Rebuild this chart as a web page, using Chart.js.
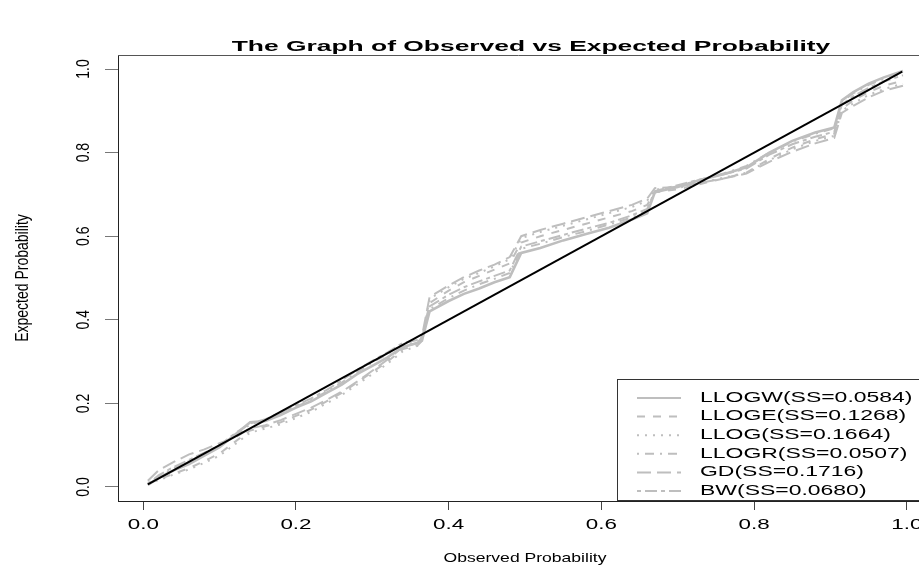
<!DOCTYPE html>
<html>
<head>
<meta charset="utf-8">
<script src="https://cdn.jsdelivr.net/npm/chart.js@4/dist/chart.umd.min.js"></script>
<style>
  html, body { margin: 0; padding: 0; background: #ffffff; }
  #wrap { width: 919px; height: 570px; position: relative; }
</style>
</head>
<body>
<div id="wrap"><canvas id="c" width="919" height="570"></canvas></div>
<script>
// ---- data ----
const chartTitle = 'The Graph of Observed vs Expected Probability';
const xAxisTitle = 'Observed Probability';
const yAxisTitle = 'Expected Probability';
const xTicks = [0.0, 0.2, 0.4, 0.6, 0.8, 1.0];
const yTicks = [0.0, 0.2, 0.4, 0.6, 0.8, 1.0];

const observed = [0.006,0.02,0.04,0.06,0.08,0.10,0.12,0.14,0.16,0.18,0.20,0.22,0.24,0.26,0.28,0.30,0.32,0.34,0.36,0.365,0.375,0.40,0.42,0.44,0.46,0.48,0.495,0.52,0.55,0.58,0.61,0.64,0.66,0.67,0.70,0.73,0.76,0.79,0.82,0.85,0.88,0.905,0.915,0.93,0.95,0.97,0.995];

const llogw = [0.005,0.022,0.040,0.055,0.075,0.095,0.125,0.155,0.158,0.172,0.190,0.205,0.225,0.245,0.270,0.290,0.310,0.335,0.345,0.350,0.420,0.445,0.462,0.475,0.490,0.502,0.560,0.572,0.590,0.605,0.620,0.640,0.655,0.705,0.718,0.735,0.748,0.765,0.800,0.828,0.848,0.860,0.925,0.945,0.965,0.980,0.995];
const lloge = [0.008,0.018,0.032,0.045,0.062,0.080,0.108,0.135,0.145,0.155,0.170,0.185,0.205,0.225,0.250,0.275,0.300,0.330,0.340,0.350,0.440,0.470,0.490,0.505,0.520,0.535,0.585,0.600,0.615,0.630,0.645,0.660,0.675,0.705,0.712,0.725,0.738,0.752,0.785,0.812,0.832,0.845,0.905,0.925,0.945,0.960,0.972];
const llog = [0.010,0.016,0.030,0.042,0.058,0.075,0.102,0.130,0.140,0.150,0.165,0.180,0.200,0.220,0.245,0.270,0.295,0.325,0.338,0.350,0.450,0.478,0.498,0.512,0.528,0.545,0.595,0.610,0.625,0.640,0.655,0.670,0.685,0.712,0.715,0.728,0.740,0.752,0.782,0.808,0.828,0.840,0.900,0.918,0.938,0.952,0.965];
const llogr = [0.006,0.025,0.045,0.062,0.080,0.098,0.122,0.150,0.160,0.175,0.192,0.208,0.228,0.250,0.275,0.298,0.318,0.340,0.348,0.355,0.425,0.452,0.470,0.485,0.498,0.512,0.570,0.582,0.598,0.612,0.628,0.645,0.660,0.705,0.720,0.735,0.750,0.768,0.800,0.826,0.845,0.858,0.922,0.942,0.962,0.976,0.990];
const gd = [0.015,0.040,0.060,0.078,0.090,0.105,0.118,0.140,0.148,0.160,0.175,0.190,0.208,0.228,0.252,0.278,0.305,0.335,0.345,0.360,0.455,0.482,0.502,0.518,0.532,0.550,0.600,0.615,0.630,0.645,0.660,0.675,0.690,0.715,0.718,0.728,0.738,0.750,0.778,0.802,0.822,0.835,0.895,0.912,0.932,0.948,0.960];
const bw = [0.007,0.028,0.048,0.065,0.082,0.100,0.128,0.152,0.162,0.178,0.195,0.212,0.232,0.255,0.280,0.302,0.322,0.345,0.352,0.358,0.432,0.460,0.478,0.492,0.505,0.518,0.575,0.588,0.603,0.618,0.632,0.650,0.665,0.708,0.722,0.736,0.748,0.762,0.795,0.820,0.838,0.850,0.915,0.935,0.955,0.970,0.985];

const diagonalX = [0.006, 0.994];
const diagonalY = [0.006, 0.994];

const seriesLabels = ['LLOGW(SS=0.0584)','LLOGE(SS=0.1268)','LLOG(SS=0.1664)','LLOGR(SS=0.0507)','GD(SS=0.1716)','BW(SS=0.0680)'];
const seriesValues = [llogw, lloge, llog, llogr, gd, bw];
const seriesDash = [[], [8,8], [2,6], [2,6,9,6], [14,6], [4,4,12,4]];
const seriesWidth = [2.6, 2, 2, 2, 2, 2];

// ---- chart ----
const GREY = '#bebebe';
const SX = 1.6; // horizontal stretch of the reference's text

function pts(xs, ys) { return xs.map((x, i) => ({ x: x, y: ys[i] })); }

const datasets = [{
  label: 'diagonal',
  data: pts(diagonalX, diagonalY),
  borderColor: '#000000',
  borderWidth: 2,
  showLine: true,
  pointRadius: 0,
  fill: false,
  isLegend: false
}];
seriesLabels.forEach((lab, i) => {
  datasets.push({
    label: lab,
    data: pts(observed, seriesValues[i]),
    borderColor: GREY,
    borderWidth: seriesWidth[i],
    borderDash: seriesDash[i],
    showLine: true,
    pointRadius: 0,
    fill: false,
    tension: 0,
    isLegend: true
  });
});

function hText(ctx, txt, x, y, font, align, sx) {
  ctx.save();
  ctx.font = font;
  ctx.fillStyle = '#000';
  ctx.textAlign = align;
  ctx.textBaseline = 'middle';
  ctx.translate(x, y);
  ctx.scale(sx, 1);
  ctx.fillText(txt, 0, 0);
  ctx.restore();
}
function vText(ctx, txt, x, y, font, sy) {
  ctx.save();
  ctx.font = font;
  ctx.fillStyle = '#000';
  ctx.textAlign = 'center';
  ctx.textBaseline = 'middle';
  ctx.translate(x, y);
  ctx.rotate(-Math.PI / 2);
  ctx.scale(1, sy);
  ctx.fillText(txt, 0, 0);
  ctx.restore();
}

const rDecor = {
  id: 'rDecor',
  afterDraw(chart) {
    const ctx = chart.ctx;
    const ca = chart.chartArea;
    const xs = chart.scales.x, ys = chart.scales.y;
    const FONT = '"Liberation Sans", Arial, sans-serif';

    // top edge of the plot box
    ctx.save();
    ctx.strokeStyle = '#555';
    ctx.lineWidth = 1;
    ctx.beginPath();
    ctx.moveTo(ca.left, Math.round(ca.top) + 0.5);
    ctx.lineTo(ca.right, Math.round(ca.top) + 0.5);
    ctx.stroke();
    ctx.restore();

    // tick labels
    xs.ticks.forEach(t => {
      hText(ctx, t.value.toFixed(1), xs.getPixelForValue(t.value), 525, '14px ' + FONT, 'center', SX);
    });
    ys.ticks.forEach(t => {
      vText(ctx, t.value.toFixed(1), 84, ys.getPixelForValue(t.value), '14px ' + FONT, 1.35);
    });

    // titles
    hText(ctx, chartTitle, 531, 47, 'bold 15px ' + FONT, 'center', 1.76);
    hText(ctx, xAxisTitle, 525, 558, '13px ' + FONT, 'center', 1.35);
    vText(ctx, yAxisTitle, 23, (ca.top + ca.bottom) / 2, '14px ' + FONT, 1.35);

    // legend box
    const lx = 617, ly = 379, rowH = 18.6, firstRow = 398;
    ctx.save();
    ctx.fillStyle = '#ffffff';
    ctx.fillRect(lx + 0.5, ly + 0.5, 919 - lx, 500 - ly);
    ctx.strokeStyle = '#333';
    ctx.lineWidth = 1;
    ctx.strokeRect(lx + 0.5, ly + 0.5, 919 - lx + 5, 500 - ly);
    ctx.restore();
    const legendSets = chart.data.datasets.filter(d => d.isLegend);
    legendSets.forEach((d, i) => {
      const yy = firstRow + i * rowH;
      ctx.save();
      ctx.strokeStyle = d.borderColor;
      ctx.lineWidth = 2;
      ctx.setLineDash(d.borderDash);
      ctx.beginPath();
      ctx.moveTo(637, yy);
      ctx.lineTo(681, yy);
      ctx.stroke();
      ctx.restore();
      hText(ctx, d.label, 700, yy, '14px ' + FONT, 'left', 1.64);
    });
  }
};

new Chart(document.getElementById('c'), {
  type: 'scatter',
  data: { datasets: datasets },
  options: {
    responsive: false,
    animation: false,
    devicePixelRatio: 1,
    layout: { padding: { top: 55, right: 0, left: 0, bottom: 0 } },
    plugins: {
      legend: { display: false },
      title: { display: false },
      tooltip: { enabled: false }
    },
    elements: { line: { tension: 0 } },
    scales: {
      x: {
        type: 'linear',
        min: -0.0331,
        max: 1.016,
        afterBuildTicks: s => { s.ticks = xTicks.map(v => ({ value: v })); },
        afterFit: s => { s.height = 69; },
        ticks: { display: false },
        grid: { display: true, drawOnChartArea: false, drawTicks: true, tickLength: 9, color: '#444', lineWidth: 1 },
        border: { display: true, color: '#222', width: 1 }
      },
      y: {
        type: 'linear',
        min: -0.0335,
        max: 1.0335,
        afterBuildTicks: s => { s.ticks = yTicks.map(v => ({ value: v })); },
        afterFit: s => { s.width = 118; },
        ticks: { display: false },
        grid: { display: true, drawOnChartArea: false, drawTicks: true, tickLength: 13, color: '#777', lineWidth: 1 },
        border: { display: true, color: '#222', width: 1 }
      }
    }
  },
  plugins: [rDecor]
});
</script>
</body>
</html>
